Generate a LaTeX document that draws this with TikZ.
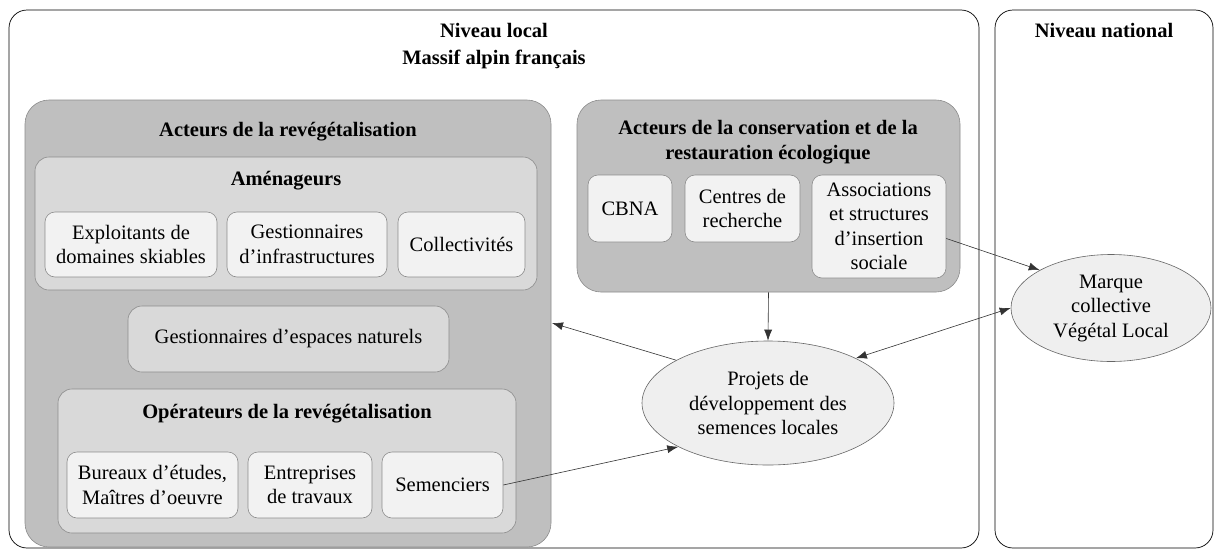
\documentclass[tikz,border=0pt]{standalone}
\usepackage{fontspec}
\setmainfont{Liberation Serif}
\usetikzlibrary{arrows.meta,shapes.geometric,fit}
\definecolor{dkfill}{HTML}{BFBFBF}
\definecolor{mdfill}{HTML}{D9D9D9}
\definecolor{ltfill}{HTML}{F2F2F2}
\definecolor{elfill}{HTML}{EFEFEF}
\definecolor{edge}{HTML}{8C8C8C}
\definecolor{arr}{HTML}{333333}
\begin{document}
\begin{tikzpicture}[x=1pt,y=-1pt,
  font=\fontsize{20.5}{24.5}\selectfont,
  frame/.style={draw=black, line width=0.7pt, fill=white, rounded corners=18pt, inner sep=0pt},
  dkbox/.style={draw=edge, line width=0.6pt, fill=dkfill, rounded corners=24pt, inner sep=0pt},
  mdbox/.style={draw=edge, line width=0.6pt, fill=mdfill, rounded corners=14pt, inner sep=0pt, align=center},
  ltbox/.style={draw=edge, line width=0.6pt, fill=ltfill, rounded corners=10pt, inner sep=0pt, align=center},
  oval/.style={ellipse, draw=black!60, line width=0.6pt, fill=elfill, inner sep=0pt, align=center},
  ttl/.style={font=\fontsize{20.5}{24.5}\selectfont\bfseries, align=center, inner sep=0pt},
  link/.style={draw=arr, line width=0.6pt, -{Latex[length=11pt,width=8pt]}},
  dlink/.style={draw=arr, line width=0.6pt, {Latex[length=11pt,width=8pt]}-{Latex[length=11pt,width=8pt]}}
]
\useasboundingbox (0,0) rectangle (1215,552);

% frames
\node[frame, fit={(9,10) (979,548)}] (local) {};
\node[frame, fit={(995,10) (1213,548)}] (national) {};
\node[ttl] (localtitle) at (494,46.5) {Niveau local\\[2.5pt]Massif alpin français};
\node[ttl] (nattitle) at (1104,31) {Niveau national};

% revegetalisation actors
\node[dkbox, fit={(25,100) (551,547)}] (reveg) {};
\node[ttl] (revegtitle) at (288,132) {Acteurs de la revégétalisation};

\node[mdbox, fit={(35,157) (537,290)}] (amen) {};
\node[ttl] (amentitle) at (286,181) {Aménageurs};
\node[ltbox, minimum width=172pt, minimum height=65pt] (expl) at (131,244.5) {Exploitants de\\domaines skiables};
\node[ltbox, minimum width=160pt, minimum height=65pt] (gest) at (307,244.5) {Gestionnaires\\d’infrastructures};
\node[ltbox, minimum width=127pt, minimum height=65pt] (coll) at (461.5,244.5) {Collectivités};

\node[mdbox, minimum width=321pt, minimum height=66pt] (gen) at (288.5,339) {Gestionnaires d’espaces naturels};

\node[mdbox, fit={(58,389) (516,533)}] (oper) {};
\node[ttl] (opertitle) at (287,414) {Opérateurs de la revégétalisation};
\node[ltbox, minimum width=171pt, minimum height=66pt] (bur) at (152.5,485) {Bureaux d’études,\\Maîtres d’oeuvre};
\node[ltbox, minimum width=124pt, minimum height=66pt] (entr) at (310,485) {Entreprises\\de travaux};
\node[ltbox, minimum width=121pt, minimum height=66pt] (sem) at (442.5,485) {Semenciers};

% conservation actors
\node[dkbox, fit={(577,100) (960,292)}] (cons) {};
\node[ttl] (constitle) at (768,142) {Acteurs de la conservation et de la\\restauration écologique};
\node[ltbox, minimum width=84pt, minimum height=67pt] (cbna) at (630,208.5) {CBNA};
\node[ltbox, minimum width=115pt, minimum height=67pt] (cent) at (742.5,208.5) {Centres de\\recherche};
\node[ltbox, minimum width=134pt, minimum height=103pt] (assoc) at (879,226.5) {Associations\\et structures\\d’insertion\\sociale};

% ellipses
\node[oval, minimum width=252pt, minimum height=124pt] (proj) at (768,403) {Projets de\\développement des\\semences locales};
\node[oval, minimum width=200pt, minimum height=107pt] (marque) at (1111,308) {Marque\\collective\\Végétal Local};

% connectors
\coordinate (revegin) at (552,323);
\draw[link] (cons.south) -- (proj.north);
\draw[link] (proj.155) -- (revegin);
\draw[link] (sem.east) -- (proj.206);
\draw[dlink] (marque.west) -- (proj.27);
\draw[link] ([yshift=-12pt]assoc.east) -- (marque.152);
\end{tikzpicture}
\end{document}
